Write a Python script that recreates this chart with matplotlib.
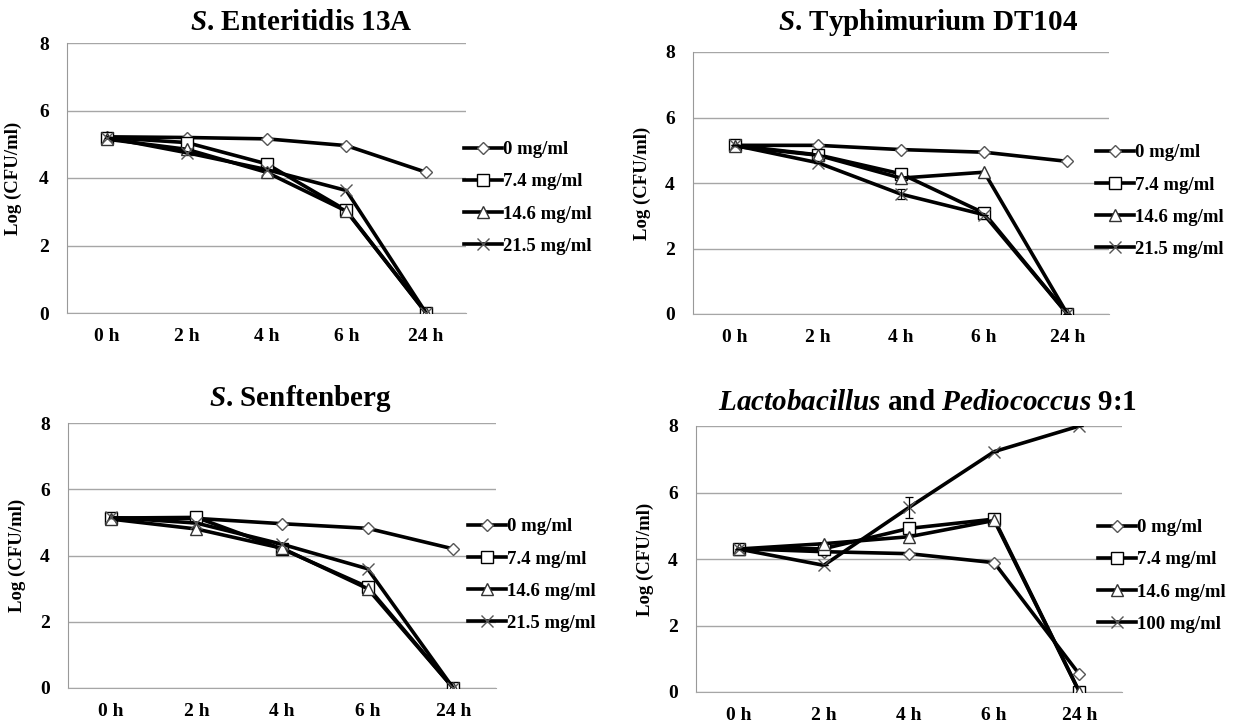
import matplotlib
matplotlib.use("Agg")
import matplotlib.pyplot as plt
import numpy as np

plt.rcParams['font.family'] = ['Liberation Serif', 'DejaVu Serif']
plt.rcParams['font.weight'] = 'bold'
plt.rcParams['mathtext.fontset'] = 'custom'
plt.rcParams['mathtext.it'] = 'Liberation Serif:italic'
plt.rcParams['mathtext.rm'] = 'Liberation Serif:bold'

time_labels = ["0 h", "2 h", "4 h", "6 h", "24 h"]

titles = [r"$\it{S}$. Enteritidis 13A",
          r"$\it{S}$. Typhimurium DT104",
          r"$\it{S}$. Senftenberg",
          r"$\it{Lactobacillus}$ and $\it{Pediococcus}$ 9:1"]

labels_salm = ["0 mg/ml", "7.4 mg/ml", "14.6 mg/ml", "21.5 mg/ml"]
labels_lab = ["0 mg/ml", "7.4 mg/ml", "14.6 mg/ml", "100 mg/ml"]

# S. Enteritidis 13A
ent_0 = [5.22, 5.20, 5.16, 4.96, 4.17]
ent_74 = [5.20, 5.05, 4.42, 3.04, 0.0]
ent_146 = [5.15, 4.85, 4.17, 3.02, 0.0]
ent_215 = [5.20, 4.75, 4.25, 3.63, 0.0]

# S. Typhimurium DT104
typ_0 = [5.15, 5.15, 5.02, 4.94, 4.66]
typ_74 = [5.15, 4.86, 4.28, 3.08, 0.0]
typ_146 = [5.12, 4.85, 4.15, 4.33, 0.0]
typ_215 = [5.15, 4.62, 3.66, 3.03, 0.0]
typ_215_err = [0.0, 0.0, 0.15, 0.0, 0.0]

# S. Senftenberg
sen_0 = [5.13, 5.12, 4.96, 4.82, 4.20]
sen_74 = [5.13, 5.15, 4.20, 3.05, 0.0]
sen_146 = [5.10, 4.80, 4.22, 3.00, 0.0]
sen_215 = [5.15, 4.98, 4.34, 3.60, 0.0]

# Lactobacillus and Pediococcus 9:1
lab_0 = [4.31, 4.22, 4.16, 3.89, 0.53]
lab_74 = [4.30, 4.31, 4.92, 5.20, 0.0]
lab_146 = [4.30, 4.46, 4.67, 5.16, 0.0]
lab_100 = [4.30, 3.81, 5.55, 7.23, 8.0]
lab_100_err = [0.0, 0.0, 0.32, 0.0, 0.0]

panels = [
    ([ent_0, ent_74, ent_146, ent_215], [None, None, None, None], labels_salm),
    ([typ_0, typ_74, typ_146, typ_215], [None, None, None, typ_215_err], labels_salm),
    ([sen_0, sen_74, sen_146, sen_215], [None, None, None, None], labels_salm),
    ([lab_0, lab_74, lab_146, lab_100], [None, None, None, lab_100_err], labels_lab),
]

W, H = 1236, 727
fig = plt.figure(figsize=(W / 100, H / 100), dpi=100)

# axes boxes in pixels: left, right, top, bottom
boxes = [(67, 466, 43, 313), (693, 1109, 52, 314), (68, 496, 423, 688), (696, 1122, 426, 692)]
title_pos = [(301, 22), (928, 23), (300, 398), (928, 402)]
legend_pos = [(464, 198), (1096, 201), (468, 575), (1098, 576)]
ylabel_x = [-0.113, -0.101, -0.098, -0.099]

styles = [
    dict(marker='D', markersize=6.5, markeredgecolor='#555555'),
    dict(marker='s', markersize=8.5, markeredgecolor='black'),
    dict(marker='^', markersize=9, markeredgecolor='#333333'),
    dict(marker='x', markersize=9, markeredgecolor='#555555'),
]

for i, (series, errs, labels) in enumerate(panels):
    l, r, t, b = boxes[i]
    ax = fig.add_axes([l / W, 1 - b / H, (r - l) / W, (b - t) / H])
    x = np.arange(len(time_labels))
    for s, e, lab, st in zip(series, errs, labels, styles):
        ax.plot(x, s, color='black', linewidth=2.6, markerfacecolor='white',
                markeredgewidth=1.0, label=lab, zorder=3, **st)
        if e is not None:
            ax.errorbar(x, s, yerr=e, fmt='none', ecolor='black', elinewidth=0.9,
                        capsize=3, capthick=0.9, zorder=4)
    ax.set_xlim(-0.5, 4.5)
    ax.set_ylim(0, 8)
    ax.set_yticks([0, 2, 4, 6, 8])
    ax.set_xticks(x)
    ax.set_xticklabels(time_labels)
    ax.tick_params(length=0, labelsize=14)
    ax.tick_params(axis='x', pad=11)
    ax.tick_params(axis='y', pad=13)
    ax.grid(axis='y', color='#a6a6a6', linewidth=1.0, zorder=0)
    ax.set_axisbelow(True)
    for sp in ['top', 'right']:
        ax.spines[sp].set_visible(False)
    ax.spines['left'].set_color('#999999')
    ax.spines['bottom'].set_color('#a6a6a6')
    ax.set_ylabel("Log (CFU/ml)", fontsize=13.5, fontweight='bold')
    ax.yaxis.set_label_coords(ylabel_x[i], 0.5)
    tx, ty = title_pos[i]
    fig.text(tx / W, 1 - ty / H, titles[i], fontsize=21, fontweight='bold',
             ha='center', va='center')
    lx, ly = legend_pos[i]
    ax.legend(loc='center left', bbox_to_anchor=(lx / W, 1 - ly / H),
              bbox_transform=fig.transFigure, frameon=False, fontsize=13.5,
              handlelength=2.0, handletextpad=0.1, labelspacing=0.8,
              borderpad=0, borderaxespad=0)

fig.savefig("out.png", dpi=100, facecolor='white')
